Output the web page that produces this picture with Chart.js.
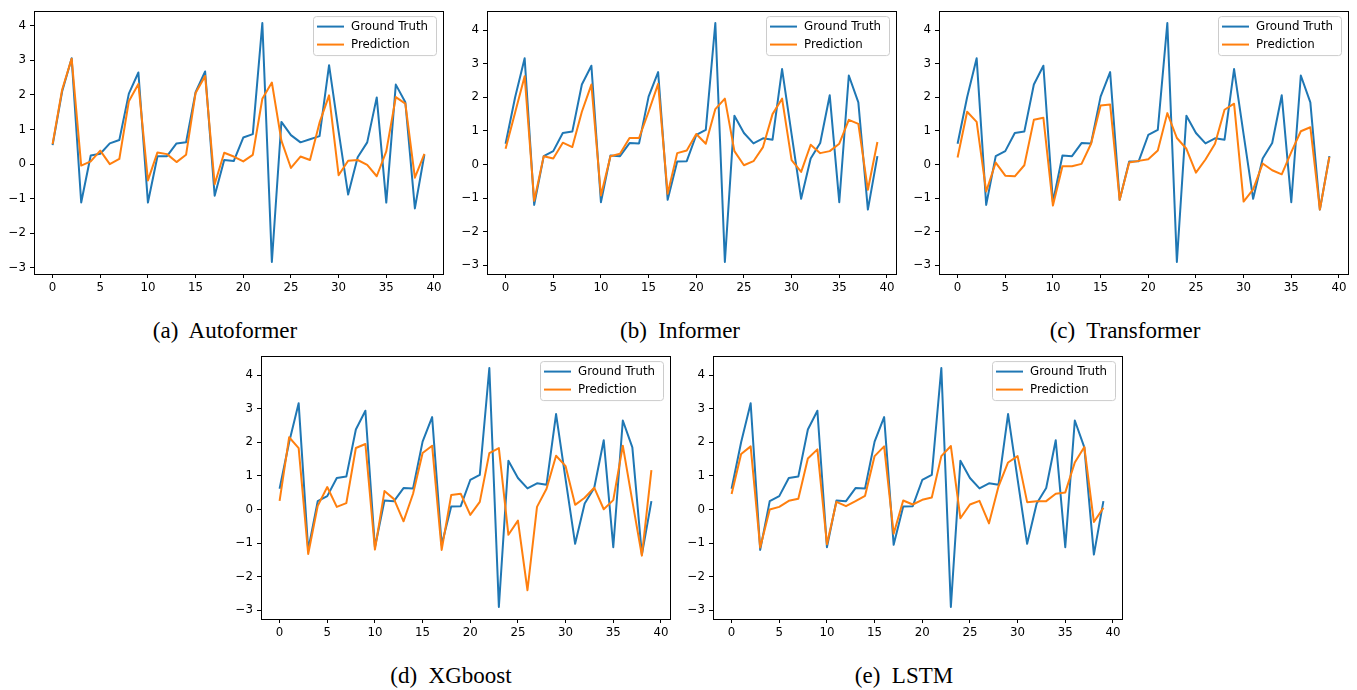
<!DOCTYPE html>
<html>
<head>
<meta charset="utf-8">
<script src="https://cdn.jsdelivr.net/npm/chart.js@4.4.1/dist/chart.umd.min.js"></script>
<style>
    body { margin: 0; background: #fff; width: 1357px; height: 690px; position: relative; overflow: hidden; }
    .panel { position: absolute; }
    .caption {
        position: absolute;
        font-family: "Liberation Serif", "DejaVu Serif", serif;
        font-size: 23px;
        color: #000;
        white-space: pre;
        transform: translate(-50%, -50%);
    }
</style>
</head>
<body>
<div class="panel" style="left:0px;top:0px"><canvas id="chartA" width="450" height="300"></canvas></div>
<div class="panel" style="left:453px;top:0px"><canvas id="chartB" width="450" height="300"></canvas></div>
<div class="panel" style="left:905px;top:0px"><canvas id="chartC" width="450" height="300"></canvas></div>
<div class="panel" style="left:227px;top:345px"><canvas id="chartD" width="450" height="300"></canvas></div>
<div class="panel" style="left:679px;top:345px"><canvas id="chartE" width="450" height="300"></canvas></div>

<div class="caption" style="left:225px;top:331px">(a)  Autoformer</div>
<div class="caption" style="left:680px;top:331px">(b)  Informer</div>
<div class="caption" style="left:1125px;top:331px">(c)  Transformer</div>
<div class="caption" style="left:451px;top:676px">(d)  XGboost</div>
<div class="caption" style="left:904px;top:676px">(e)  LSTM</div>

<script>
// tick labels
const xTickValues = [0, 5, 10, 15, 20, 25, 30, 35, 40];
const yTickValues = [-3, -2, -1, 0, 1, 2, 3, 4];

// ground truth (panel a was plotted with a slightly different scaling)
const groundTruthA = [0.55, 2.1, 3.06, -1.11, 0.25, 0.3, 0.6, 0.7, 2.04, 2.65,
    -1.11, 0.23, 0.23, 0.6, 0.63, 2.08, 2.68, -0.91, 0.12, 0.09,
    0.77, 0.87, 4.08, -2.83, 1.22, 0.84, 0.63, 0.72, 0.81, 2.86,
    0.95, -0.88, 0.2, 0.63, 1.93, -1.11, 2.3, 1.79, -1.28, 0.28];
const groundTruth = [0.62, 2.0, 3.16, -1.2, 0.25, 0.4, 0.94, 0.98, 2.38, 2.94,
    -1.12, 0.27, 0.25, 0.64, 0.63, 2.02, 2.75, -1.05, 0.09, 0.1,
    0.88, 1.03, 4.21, -2.9, 1.45, 0.94, 0.63, 0.78, 0.74, 2.84,
    0.9, -1.02, 0.18, 0.64, 2.06, -1.12, 2.65, 1.85, -1.34, 0.25];

// predictions
const predAutoformer = [0.58, 2.15, 3.05, -0.04, 0.08, 0.39, 0.0, 0.15, 1.82, 2.32,
    -0.47, 0.34, 0.29, 0.06, 0.27, 2.06, 2.55, -0.58, 0.33, 0.22,
    0.08, 0.27, 1.89, 2.36, 0.68, -0.11, 0.22, 0.12, 1.2, 1.99,
    -0.32, 0.1, 0.12, -0.02, -0.35, 0.37, 1.94, 1.75, -0.39, 0.3];
const predInformer = [0.47, 1.55, 2.63, -1.08, 0.25, 0.18, 0.65, 0.52, 1.57, 2.38,
    -0.92, 0.25, 0.32, 0.79, 0.79, 1.57, 2.4, -0.87, 0.34, 0.42,
    0.91, 0.62, 1.65, 1.96, 0.4, -0.02, 0.1, 0.52, 1.5, 1.96,
    0.13, -0.22, 0.59, 0.34, 0.4, 0.62, 1.33, 1.21, -0.75, 0.67];
const predTransformer = [0.21, 1.57, 1.27, -0.8, 0.06, -0.33, -0.35, -0.02, 1.33, 1.39,
    -1.22, -0.05, -0.05, 0.02, 0.62, 1.76, 1.79, -1.05, 0.06, 0.11,
    0.16, 0.42, 1.53, 0.79, 0.47, -0.24, 0.15, 0.62, 1.63, 1.81,
    -1.1, -0.74, 0.03, -0.17, -0.29, 0.37, 0.99, 1.11, -1.34, 0.23];
const predXGboost = [0.26, 2.15, 1.83, -1.32, 0.11, 0.67, 0.08, 0.19, 1.83, 1.95,
    -1.19, 0.55, 0.31, -0.35, 0.47, 1.68, 1.9, -1.2, 0.43, 0.47,
    -0.16, 0.23, 1.68, 1.83, -0.75, -0.33, -2.4, 0.08, 0.62, 1.6,
    1.29, 0.14, 0.35, 0.65, 0.01, 0.28, 1.9, 0.25, -1.37, 1.17];
const predLSTM = [0.46, 1.65, 1.88, -1.13, 0.0, 0.08, 0.26, 0.32, 1.52, 1.79,
    -1.03, 0.23, 0.1, 0.25, 0.41, 1.59, 1.88, -0.72, 0.27, 0.15,
    0.29, 0.36, 1.59, 1.89, -0.26, 0.15, 0.26, -0.41, 0.69, 1.4,
    1.59, 0.22, 0.25, 0.25, 0.47, 0.51, 1.4, 1.86, -0.37, 0.05];

const BLUE = '#1f77b4';
const ORANGE = '#ff7f0e';
const TICK_FONT = { family: 'DejaVu Sans', size: 11.8 };

// matplotlib-like box around the axes
const framePlugin = {
    id: 'frame',
    afterDraw(chart) {
        const { ctx, chartArea: ca } = chart;
        ctx.save();
        ctx.strokeStyle = '#000';
        ctx.lineWidth = 1;
        ctx.strokeRect(Math.round(ca.left) + 0.5, Math.round(ca.top) + 0.5,
            Math.round(ca.right - ca.left), Math.round(ca.bottom - ca.top));
        ctx.restore();
    }
};

// legend in the upper right corner, drawn from the datasets
const legendPlugin = {
    id: 'boxLegend',
    afterDraw(chart) {
        const { ctx, chartArea: ca } = chart;
        const w = 123, h = 39;
        const x = ca.right - 7 - w, y = ca.top + 5;
        ctx.save();
        ctx.beginPath();
        ctx.roundRect(x + 0.5, y + 0.5, w, h, 3);
        ctx.fillStyle = 'rgba(255,255,255,0.8)';
        ctx.fill();
        ctx.strokeStyle = '#cccccc';
        ctx.lineWidth = 1;
        ctx.stroke();
        ctx.font = '11.8px "DejaVu Sans"';
        ctx.textBaseline = 'middle';
        chart.data.datasets.forEach((ds, i) => {
            const ry = y + 10.5 + i * 18;
            ctx.strokeStyle = ds.borderColor;
            ctx.lineWidth = 2;
            ctx.beginPath();
            ctx.moveTo(x + 4, ry);
            ctx.lineTo(x + 31, ry);
            ctx.stroke();
            ctx.fillStyle = '#000';
            ctx.fillText(ds.label, x + 38, ry + 0.5);
        });
        ctx.restore();
    }
};

function toPoints(values) {
    return values.map((v, i) => ({ x: i, y: v }));
}

function makeChart(canvasId, truth, pred) {
    const all = truth.concat(pred);
    const lo = Math.min(...all), hi = Math.max(...all);
    const pad = (hi - lo) * 0.05;
    const n = truth.length - 1;

    return new Chart(document.getElementById(canvasId), {
        type: 'line',
        data: {
            datasets: [
                { label: 'Ground Truth', data: toPoints(truth), borderColor: BLUE, borderWidth: 2, order: 2 },
                { label: 'Prediction', data: toPoints(pred), borderColor: ORANGE, borderWidth: 2, order: 1 }
            ]
        },
        options: {
            responsive: false,
            animation: false,
            devicePixelRatio: 1,
            layout: { padding: { left: 0, top: 10, right: 7, bottom: 0 } },
            elements: {
                line: { tension: 0, borderJoinStyle: 'round', borderCapStyle: 'butt' },
                point: { radius: 0, hoverRadius: 0 }
            },
            plugins: { legend: { display: false }, tooltip: { enabled: false } },
            scales: {
                x: {
                    type: 'linear',
                    min: -n * 0.05,
                    max: n * 1.05,
                    afterBuildTicks: s => { s.ticks = xTickValues.map(v => ({ value: v })); },
                    afterFit: s => { s.height = 26; },
                    border: { display: false },
                    grid: { drawOnChartArea: false, drawTicks: true, tickLength: 4, color: '#000', tickWidth: 1 },
                    ticks: { font: TICK_FONT, color: '#000', padding: 3, maxRotation: 0 }
                },
                y: {
                    type: 'linear',
                    min: lo - pad,
                    max: hi + pad,
                    afterBuildTicks: s => { s.ticks = yTickValues.map(v => ({ value: v })); },
                    afterFit: s => { s.width = 34; },
                    border: { display: false },
                    grid: { drawOnChartArea: false, drawTicks: true, tickLength: 4, color: '#000', tickWidth: 1 },
                    ticks: {
                        font: TICK_FONT, color: '#000', padding: 4,
                        callback: v => (v < 0 ? '\u2212' + Math.abs(v) : String(v))
                    }
                }
            }
        },
        plugins: [framePlugin, legendPlugin]
    });
}

makeChart('chartA', groundTruthA, predAutoformer);
makeChart('chartB', groundTruth, predInformer);
makeChart('chartC', groundTruth, predTransformer);
makeChart('chartD', groundTruth, predXGboost);
makeChart('chartE', groundTruth, predLSTM);
</script>
</body>
</html>
